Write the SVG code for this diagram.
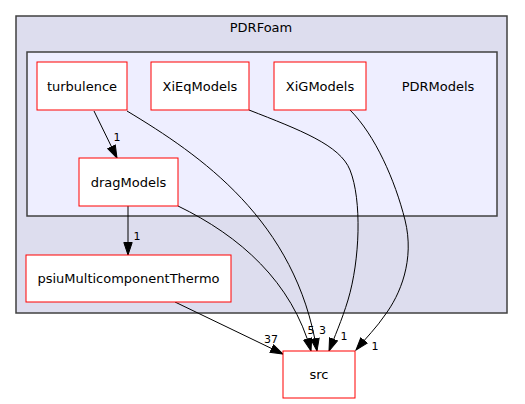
<svg xmlns="http://www.w3.org/2000/svg" width="525" height="404" viewBox="0 0 525 404">
<style>
text{font-family:"DejaVu Sans","Liberation Sans",sans-serif;font-size:13px;fill:#000}
.node{fill:#fff;stroke:#ff0000;stroke-width:1}
.nt{text-anchor:middle}
.edge{fill:none;stroke:#000;stroke-width:1}
.lbl{text-anchor:middle;font-size:11px}
</style>
<defs>
<marker id="ah" markerUnits="userSpaceOnUse" markerWidth="14" markerHeight="11" refX="13" refY="4.7" orient="auto">
<path d="M0.5,0.5 L13,4.7 L0.5,8.9 z" fill="#000" stroke="#000" stroke-width="1"/>
</marker>
</defs>
<g id="cluster_PDRFoam">
<rect x="16" y="16" width="491" height="297" fill="#ddddee" stroke="#404040" stroke-width="1.5"/>
<text class="nt" x="261" y="31.5">PDRFoam</text>
</g>
<g id="cluster_PDRModels">
<rect x="27" y="52" width="470" height="164" fill="#eeeeff" stroke="#404040" stroke-width="1.5"/>
<text class="nt" x="438" y="90.5">PDRModels</text>
</g>
<g id="edges">
<path class="edge" d="M94,111 L117,158" marker-end="url(#ah)"/>
<text class="lbl" x="117" y="141">1</text>
<path class="edge" d="M128,206 L128,255" marker-end="url(#ah)"/>
<text class="lbl" x="137" y="240">1</text>
<path class="edge" d="M175,302 L283,354" marker-end="url(#ah)"/>
<text class="lbl" x="271" y="343">37</text>
<path class="edge" d="M178,206 C240,236 292,282 311,351" marker-end="url(#ah)"/>
<text class="lbl" x="311" y="334">5</text>
<path class="edge" d="M127,111 C200,155 296,220 317,351" marker-end="url(#ah)"/>
<text class="lbl" x="322.5" y="334">3</text>
<path class="edge" d="M249,110 C300,130 340,145 350,170 C362,200 360,260 348,300 C342,320 334,338 329,351" marker-end="url(#ah)"/>
<text class="lbl" x="344" y="340">1</text>
<path class="edge" d="M350,110 C375,135 395,180 405,220 C415,260 400,295 385,315 C377,327 366,338 356,350" marker-end="url(#ah)"/>
<text class="lbl" x="375" y="350">1</text>
</g>
<g id="node_turbulence">
<rect class="node" x="37" y="62" width="90" height="48"/>
<text class="nt" x="82" y="90.5">turbulence</text>
</g>
<g id="node_XiEqModels">
<rect class="node" x="151" y="62" width="98" height="48"/>
<text class="nt" x="200" y="90.5">XiEqModels</text>
</g>
<g id="node_XiGModels">
<rect class="node" x="274" y="62" width="92" height="48"/>
<text class="nt" x="320" y="90.5">XiGModels</text>
</g>
<g id="node_dragModels">
<rect class="node" x="79" y="158" width="99" height="48"/>
<text class="nt" x="128.5" y="186.5">dragModels</text>
</g>
<g id="node_psiuMulticomponentThermo">
<rect class="node" x="26" y="255" width="205" height="47"/>
<text class="nt" x="128.5" y="283">psiuMulticomponentThermo</text>
</g>
<g id="node_src">
<rect class="node" x="283" y="351" width="72" height="47"/>
<text class="nt" x="319" y="379">src</text>
</g>
</svg>
